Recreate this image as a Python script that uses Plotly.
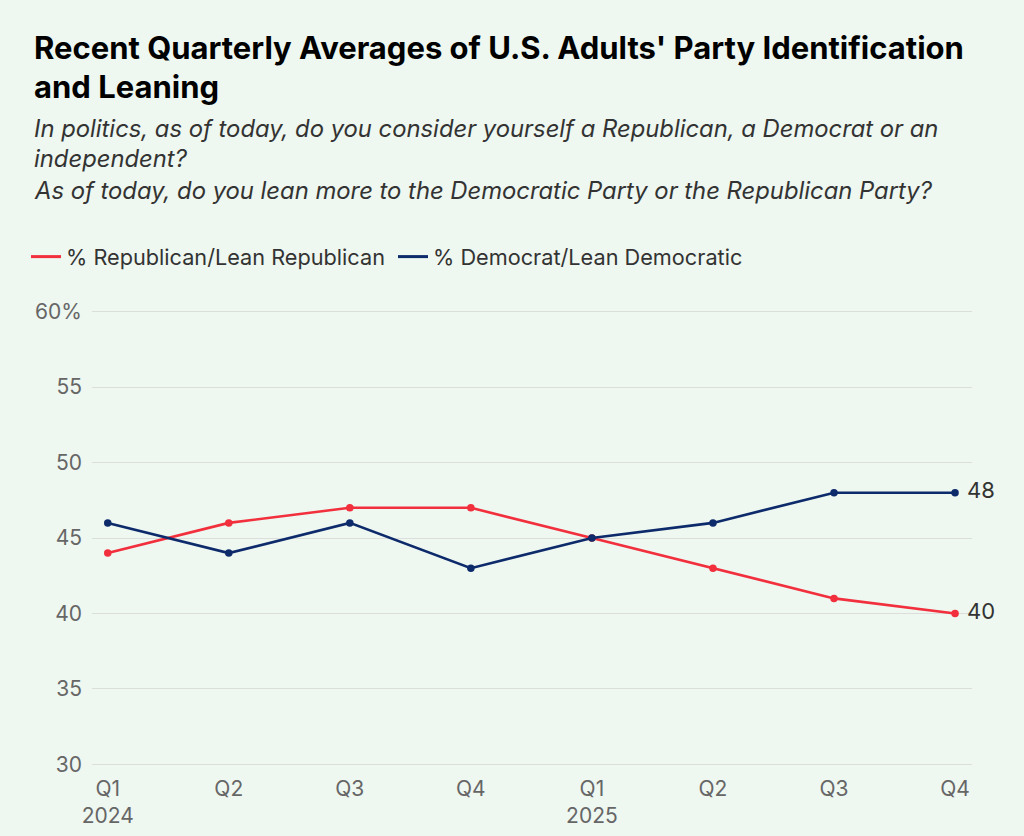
import plotly.graph_objects as go

quarters = ["Q1<br>2024", "Q2", "Q3", "Q4", "Q1<br>2025", "Q2", "Q3", "Q4"]
rep = [44, 46, 47, 47, 45, 43, 41, 40]
dem = [46, 44, 46, 43, 45, 46, 48, 48]
y_ticks = [30, 35, 40, 45, 50, 55, 60]
y_ticktext = ["30", "35", "40", "45", "50", "55", "60%"]

RED = "#f22f3c"
NAVY = "#0d2a6b"
BG = "#eef7f0"

W, H = 1024, 836
ML, MR, MT, MB = 92, 52, 310, 70

xi = list(range(len(quarters)))

def end_text(vals):
    return [""] * (len(vals) - 1) + [" " + str(vals[-1])]

fig = go.Figure()
series = [("% Republican/Lean Republican", rep, RED), ("% Democrat/Lean Democratic", dem, NAVY)]
for name, vals, col in series:
    fig.add_trace(go.Scatter(
        x=xi, y=vals, mode="lines+markers+text", name=name, legendgroup=name,
        showlegend=False,
        line=dict(color=col, width=2.6), marker=dict(size=7.5, color=col),
        text=end_text(vals), textposition="middle right",
        textfont=dict(size=22, color="#333333", family="Inter"),
        cliponaxis=False, hoverinfo="skip",
    ))
for name, vals, col in series:
    fig.add_trace(go.Scatter(
        x=[None], y=[None], mode="lines", name=name, legendgroup=name,
        line=dict(color=col, width=3), showlegend=True,
    ))

def px_to_paper_y(py):
    return (H - MB - py) / (H - MT - MB)

def px_to_paper_x(px):
    return (px - ML) / (W - ML - MR)

title_lines = [
    ("Recent Quarterly Averages of U.S. Adults' Party Identification", 47),
    ("and Leaning", 86),
]
sub_lines = [
    ("In politics, as of today, do you consider yourself a Republican, a Democrat or an", 128),
    ("independent?", 159),
    ("As of today, do you lean more to the Democratic Party or the Republican Party?", 190),
]
annotations = []
for txt, py in title_lines:
    annotations.append(dict(
        text="<b>" + txt + "</b>", xref="paper", yref="paper",
        x=px_to_paper_x(32), y=px_to_paper_y(py), xanchor="left", yanchor="middle",
        showarrow=False, font=dict(size=31, color="#000000", family="Inter"),
    ))
for txt, py in sub_lines:
    annotations.append(dict(
        text="<i>" + txt + "</i>", xref="paper", yref="paper",
        x=px_to_paper_x(32), y=px_to_paper_y(py), xanchor="left", yanchor="middle",
        showarrow=False, font=dict(size=23.8, color="#333333", family="Inter"),
    ))

fig.update_layout(
    width=W, height=H,
    margin=dict(l=ML, r=MR, t=MT, b=MB, autoexpand=False),
    paper_bgcolor=BG, plot_bgcolor=BG,
    font=dict(family="Inter", color="#666666"),
    showlegend=True,
    hovermode=False,
    legend=dict(
        orientation="h", x=px_to_paper_x(26), y=px_to_paper_y(257), xanchor="left", yanchor="middle",
        font=dict(size=21.7, color="#333333", family="Inter"),
        bgcolor="rgba(0,0,0,0)", itemwidth=30, tracegroupgap=0,
        entrywidth=322, entrywidthmode="pixels",
    ),
    annotations=annotations,
    xaxis=dict(
        tickmode="array", tickvals=xi, ticktext=quarters,
        range=[-0.13, 7.14], showgrid=False, zeroline=False, showline=False,
        ticks="", ticklabelstandoff=8, tickfont=dict(size=21, color="#666666"),
        automargin=False, fixedrange=True,
    ),
    yaxis=dict(
        tickmode="array", tickvals=y_ticks, ticktext=y_ticktext,
        range=[29.9, 60.1], showgrid=True, gridcolor="#dcdedb", gridwidth=1.3,
        zeroline=False, showline=False, ticks="", ticklabelstandoff=9,
        tickfont=dict(size=21, color="#666666"),
        automargin=False, fixedrange=True,
    ),
)
fig.write_html(
    "out.html",
    config={"displayModeBar": False, "staticPlot": False},
    post_script="document.body.style.margin='0';document.body.style.background='" + BG + "';",
)
